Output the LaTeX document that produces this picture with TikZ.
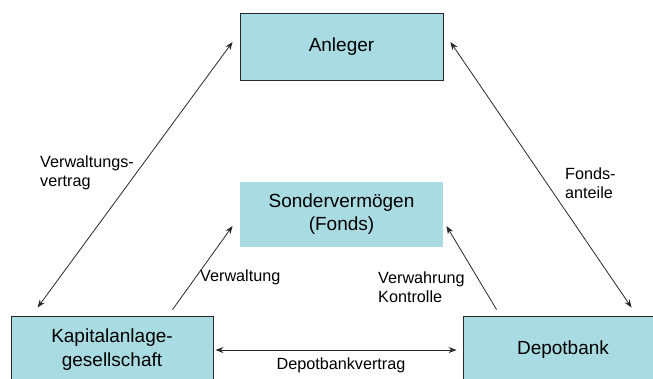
\documentclass[tikz,border=0pt]{standalone}
\usepackage{fontspec}
\setmainfont{Liberation Sans}
\usetikzlibrary{arrows.meta}
\definecolor{boxfill}{RGB}{168,220,226}
\definecolor{linecol}{RGB}{40,40,40}
\begin{document}
\begin{tikzpicture}[x=1pt,y=-1pt,
  box/.style={rectangle, fill=boxfill, draw=linecol, line width=0.9pt, inner sep=0pt,
    align=center, font=\fontsize{19}{23}\selectfont},
  plainbox/.style={box, draw=none},
  lbl/.style={inner sep=0pt, anchor=west, align=left, font=\fontsize{16.2}{19}\selectfont},
  conn/.style={draw=linecol, line width=0.8pt},
  tip/.style={-{Stealth[length=8pt,width=6pt]}},
  tips/.style={{Stealth[length=8pt,width=6pt]}-{Stealth[length=8pt,width=6pt]}}]
\useasboundingbox (0,0) rectangle (653,378);
\clip (0,0) rectangle (653,378);
\node[box, minimum width=203pt, minimum height=67pt] (anl) at (341.5,46.5) {Anleger};
\node[plainbox, minimum width=203pt, minimum height=65pt] (son) at (341.5,214.5) {Sondervermögen\\(Fonds)};
\node[box, minimum width=202pt, minimum height=72pt] (kag) at (112,352) {};
\node[align=center, font=\fontsize{19}{24}\selectfont, inner sep=0pt] (kagt) at (112,349.5) {Kapitalanlage-\\gesellschaft};
\node[box, minimum width=200pt, minimum height=72pt] (dep) at (563,352) {};
\node[font=\fontsize{19}{23}\selectfont, inner sep=0pt] (dept) at (563,350) {Depotbank};
% connectors
\draw[conn, tips] ([shift={(27,-8)}]kag.north west) -- ([shift={(-7,-4.5)}]anl.west);
\draw[conn, tips] ([shift={(7,-4.5)}]anl.east) -- ([shift={(169,-8)}]dep.north west);
\draw[conn, tips] ([shift={(2,-2)}]kag.east) -- ([shift={(-6,-2)}]dep.west);
\draw[conn, tip] ([shift={(162,-6)}]kag.north west) -- ([shift={(-7,11.5)}]son.west);
\draw[conn, tip] ([shift={(34,-6)}]dep.north west) -- ([shift={(3,11.5)}]son.east);
% labels
\node[lbl] (l1) at (40,172.5) {Verwaltungs-\\vertrag};
\node[lbl] (l2) at (565,183.5) {Fonds-\\anteile};
\node[lbl] (l3) at (200,277) {Verwaltung};
\node[lbl] (l4) at (378,287) {Verwahrung\\Kontrolle};
\node[inner sep=0pt, font=\fontsize{16.2}{19}\selectfont] (l5) at (341,365) {Depotbankvertrag};
\end{tikzpicture}
\end{document}
